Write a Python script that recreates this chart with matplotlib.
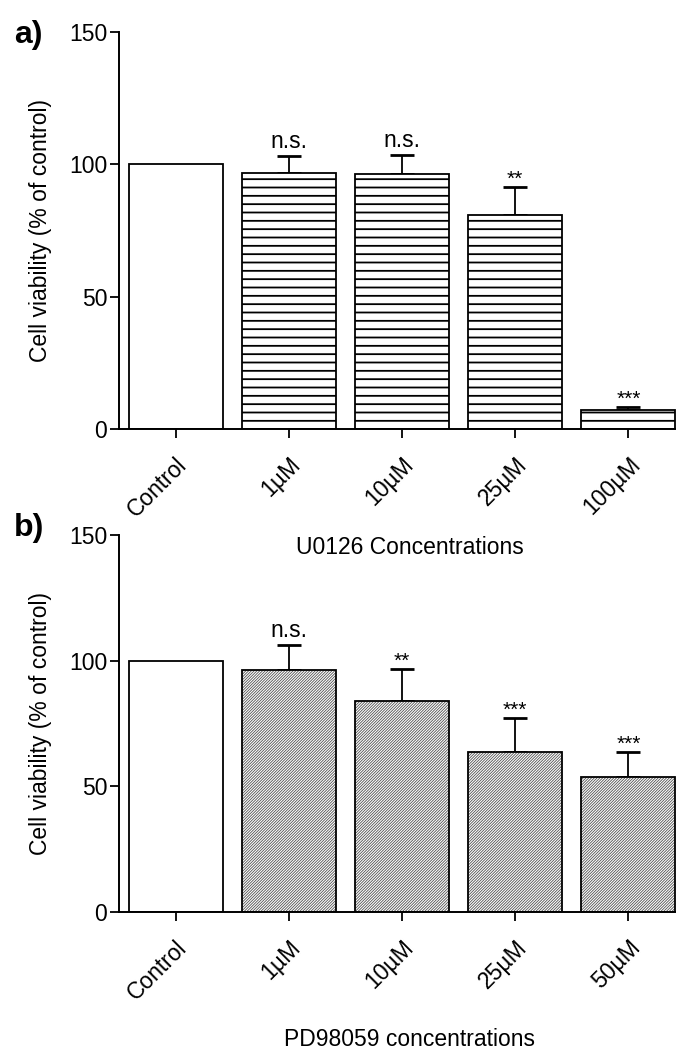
import numpy as np
import matplotlib.pyplot as plt

plt.rcParams['font.family'] = ['Liberation Sans', 'DejaVu Sans']

# panel a: U0126
labels_a = ['Control', '1\u00b5M', '10\u00b5M', '25\u00b5M', '100\u00b5M']
means_a = [100, 96.7, 96.3, 80.8, 7.2]
sem_a = [0, 6.4, 7.2, 10.6, 1.1]
signif_a = ['', 'n.s.', 'n.s.', '**', '***']

# panel b: PD98059
labels_b = ['Control', '1\u00b5M', '10\u00b5M', '25\u00b5M', '50\u00b5M']
means_b = [100, 96.3, 84.1, 63.7, 53.7]
sem_b = [0, 9.9, 12.6, 13.5, 10.0]
signif_b = ['', 'n.s.', '**', '***', '***']

W, H = 676, 1059
FS = 16.5
fig = plt.figure(figsize=(W / 100, H / 100), dpi=100)
ax_a = fig.add_axes([119 / W, 1 - 429 / H, 1 - 119 / W, 397 / H])
ax_b = fig.add_axes([119 / W, 1 - 912 / H, 1 - 119 / W, 377 / H])


def draw_panel(ax, labels, means, sem, signif, hatch, hatch_color, hatch_lw):
    x = np.arange(len(labels))
    plt.rcParams['hatch.linewidth'] = hatch_lw
    # hatched fill first, then black outlines on top
    ax.bar(x[1:], means[1:], width=0.83, color='white', edgecolor=hatch_color,
           hatch=hatch, linewidth=0, zorder=2)
    ax.bar(x, means, width=0.83, fill=False, edgecolor='black',
           linewidth=1.3, zorder=3)
    ax.errorbar(x[1:], means[1:], yerr=[np.zeros(len(x) - 1), sem[1:]],
                fmt='none', ecolor='black', elinewidth=1.3, capsize=8.5,
                capthick=2, zorder=1)
    for xi, m, s, txt in zip(x, means, sem, signif):
        if not txt:
            continue
        if txt.startswith('*'):
            ax.annotate(txt, (xi, m + s), xytext=(0, 1.5), textcoords='offset points',
                        ha='center', va='baseline', fontsize=15)
        else:
            ax.annotate(txt, (xi, m + s), xytext=(0, 6), textcoords='offset points',
                        ha='center', va='baseline', fontsize=FS)
    ax.set_xlim(-0.5, 4.42)
    ax.set_ylim(0, 150)
    ax.set_yticks([0, 50, 100, 150])
    ax.set_xticks(x)
    ax.set_xticklabels(labels, rotation=45, ha='right', va='top',
                       rotation_mode='anchor', fontsize=FS)
    ax.tick_params(axis='both', direction='out', length=6.5, width=1.3,
                   labelsize=FS, pad=2)
    ax.tick_params(axis='x', pad=11)
    for side in ['top', 'right']:
        ax.spines[side].set_visible(False)
    for side in ['left', 'bottom']:
        ax.spines[side].set_linewidth(1.4)
    ax.set_ylabel('Cell viability (% of control)', fontsize=FS, labelpad=12)


draw_panel(ax_a, labels_a, means_a, sem_a, signif_a, '--', 'black', 1.3)
draw_panel(ax_b, labels_b, means_b, sem_b, signif_b, '/' * 12, '#505050', 0.6)

fig.text(410 / W, 1 - 548 / H, 'U0126 Concentrations', fontsize=FS,
         ha='center', va='center')
fig.text(410 / W, 1 - 1040 / H, 'PD98059 concentrations', fontsize=FS,
         ha='center', va='center')

fig.text(14 / W, 1 - 43 / H, 'a)', fontsize=23, fontweight='bold')
fig.text(14 / W, 1 - 536 / H, 'b)', fontsize=23, fontweight='bold')

fig.savefig('out.png', dpi=100)
